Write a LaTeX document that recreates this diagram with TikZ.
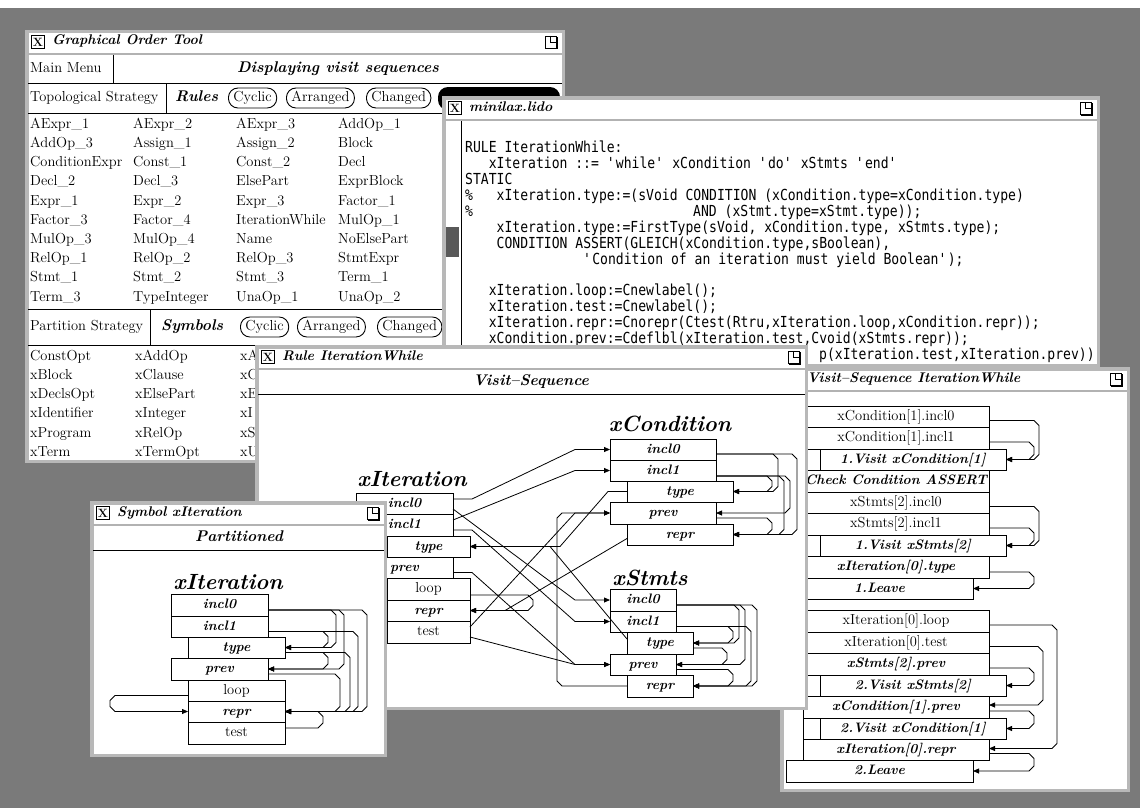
\documentclass[tikz,border=0pt]{standalone}
\usepackage{fontspec}
\usetikzlibrary{arrows.meta,calc}
\newfontfamily\codefont[FakeStretch=0.86]{DejaVu Sans Mono}
\newcommand\rmtext{\fontsize{14.5}{16}\selectfont}
\newcommand\bitext{\fontsize{13.7}{16}\selectfont\bfseries\itshape}
\newcommand\wintitle{\fontsize{14}{15}\selectfont\bfseries\itshape}
\newcommand\headtext{\fontsize{15.5}{17}\selectfont\bfseries\itshape}
\newcommand\symtext{\fontsize{22}{24}\selectfont\bfseries\itshape}
\newcommand\codetext{\codefont\fontsize{15.2}{16}\selectfont}
\tikzset{
  x=1pt, y=-1pt,
  desk/.style={fill=black!52},
  winframe/.style={draw=black!28,line width=3.5pt},
  barline/.style={draw=black!30,line width=2.5pt},
  sepline/.style={draw=black,line width=1pt},
  cellbase/.style={draw=black,fill=white,line width=1pt,inner sep=0pt,outer sep=0pt,text height=9pt,text depth=2pt},
  rm/.style={font=\rmtext},
  bi/.style={font=\bitext},
  dep/.style={draw=black,line width=0.8pt,-{Triangle[length=6pt,width=5pt]}},
  pill/.style={draw=black,line width=0.9pt,rounded corners=9.5pt,minimum height=20pt,inner xsep=5pt,inner ysep=0pt,anchor=west,font=\rmtext,text height=9pt,text depth=2.5pt},
  xbox/.style={draw=black,line width=0.8pt,minimum size=13pt,inner sep=0pt,font=\fontsize{12}{12}\selectfont\bfseries},
  titletext/.style={anchor=west,inner sep=0pt,font=\wintitle,text height=9pt,text depth=3pt},
  headline/.style={inner sep=0pt,font=\headtext,text height=10pt,text depth=3pt},
  listitem/.style={anchor=west,inner sep=0pt,font=\rmtext,text height=9pt,text depth=2.5pt},
  symname/.style={anchor=base,inner sep=0pt,font=\symtext},
  codeline/.style={anchor=base west,inner sep=0pt,font=\codetext},
}
% a labelled cell given by its corners
\newcommand\cellbox[7]{%
  \node[cellbase,#6,minimum width={(#4-#2)*1pt},minimum height={(#5-#3)*1pt}] (#1) at ({(#2+#4)/2},{(#3+#5)/2}) {#7};}
% dependency on the right-hand side, running downwards
\newcommand\rdep[5]{%
  \draw[dep] let \p1=(#1.east), \p2=(#3.east), \n1={\y1-(#2pt)}, \n2={\y2-(#4pt)}, \n3={#5pt} in
    (\x1,\n1) -- ({\n3-5pt},\n1) -- (\n3,{\n1-5pt})
    -- (\n3,{\n2+5pt}) -- ({\n3-5pt},\n2) -- (\x2,\n2);}
% dependency on the right-hand side, running upwards
\newcommand\udep[5]{%
  \draw[dep] let \p1=(#1.east), \p2=(#3.east), \n1={\y1-(#2pt)}, \n2={\y2-(#4pt)}, \n3={#5pt} in
    (\x1,\n1) -- ({\n3-5pt},\n1) -- (\n3,{\n1+5pt})
    -- (\n3,{\n2-5pt}) -- ({\n3-5pt},\n2) -- (\x2,\n2);}
\newcommand\closeicon[2]{%
  \pgfmathsetmacro\cix{#1}\pgfmathsetmacro\ciy{#2}%
  \draw[line width=0.8pt] (\cix-6,\ciy-6) rectangle (\cix+5,\ciy+6);
  \draw[line width=0.8pt] (\cix-0.5,\ciy-6) -- (\cix-0.5,\ciy) -- (\cix+5,\ciy);
  \draw[line width=1.5pt] (\cix-5,\ciy+6.75) -- (\cix+5.75,\ciy+6.75) -- (\cix+5.75,\ciy-5);}
% an X window: corners, title, name prefix
\newcommand\xwindow[6]{%
  \fill[white] (#1,#2) rectangle (#3,#4);
  \draw[winframe] ({#1+1.75},{#2+1.75}) rectangle ({#3-1.75},{#4-1.75});
  \draw[barline] ({#1+3},{#2+24}) -- ({#3-3},{#2+24});
  \node[xbox] (#6x) at ({#1+13},{#2+12}) {X};
  \node[titletext] (#6t) at ({#1+27},{#2+12}) {#5};
  \closeicon{#3-14}{#2+12}}
\begin{document}
\begin{tikzpicture}
\useasboundingbox (0,0) rectangle (1140,808);
\fill[white] (0,0) rectangle (1140,808);
\fill[desk] (0,8) rectangle (1140,808);

%% ---------------- Graphical Order Tool ----------------
\xwindow{25}{30}{565}{463}{Graphical Order Tool}{wa}
\draw[sepline] (113,55) -- (113,83);
\draw[sepline] (28,83) -- (562,83);
\node[listitem] (mainmenu) at (30,69) {Main Menu};
\node[headline] (disp) at (338,69) {Displaying visit sequences};
\draw[sepline] (166,83) -- (166,113);
\node[listitem] (topo) at (30,98) {Topological Strategy};
\node[headline,anchor=west] (rules) at (175,98) {Rules};
\node[pill] (rcyc) at (228,98) {Cyclic};
\node[pill] (rarr) at (286,98) {Arranged};
\node[pill] (rchg) at (366,98) {Changed};
\fill[black,rounded corners=10pt] (438,87) rectangle (560,110);
\draw[sepline] (28,113) -- (562,113);
\foreach \a/\b/\c/\d [count=\i from 0] in {
  AExpr\_1/AExpr\_2/AExpr\_3/AddOp\_1,
  AddOp\_3/Assign\_1/Assign\_2/Block,
  ConditionExpr/Const\_1/Const\_2/Decl,
  Decl\_2/Decl\_3/ElsePart/ExprBlock,
  Expr\_1/Expr\_2/Expr\_3/Factor\_1,
  Factor\_3/Factor\_4/IterationWhile/MulOp\_1,
  MulOp\_3/MulOp\_4/Name/NoElsePart,
  RelOp\_1/RelOp\_2/RelOp\_3/StmtExpr,
  Stmt\_1/Stmt\_2/Stmt\_3/Term\_1,
  Term\_3/TypeInteger/UnaOp\_1/UnaOp\_2}{
  \node[listitem] (g\i a) at (30,{125+19.2*\i}) {\a};
  \node[listitem] (g\i b) at (133,{125+19.2*\i}) {\b};
  \node[listitem] (g\i c) at (236,{125+19.2*\i}) {\c};
  \node[listitem] (g\i d) at (338,{125+19.2*\i}) {\d};
}
\draw[sepline] (28,309) -- (562,309);
\draw[sepline] (150,309) -- (150,345);
\node[listitem] (part) at (30,327) {Partition Strategy};
\node[headline,anchor=west] (symbols) at (161,327) {Symbols};
\node[pill] (scyc) at (240,327) {Cyclic};
\node[pill] (sarr) at (297,327) {Arranged};
\node[pill] (schg) at (377,327) {Changed};
\draw[sepline] (28,345) -- (562,345);
\foreach \a/\b/\c [count=\i from 0] in {
  ConstOpt/xAddOp/xA, xBlock/xClause/xC, xDeclsOpt/xElsePart/xE,
  xIdentifier/xInteger/xI, xProgram/xRelOp/xS, xTerm/xTermOpt/xU}{
  \node[listitem] (s\i a) at (30,{357+19.2*\i}) {\a};
  \node[listitem] (s\i b) at (135,{357+19.2*\i}) {\b};
  \node[listitem] (s\i c) at (240,{357+19.2*\i}) {\c};
}

%% ---------------- minilax.lido ----------------
\xwindow{442}{96}{1100}{367}{minilax.lido}{wm}
\draw[sepline] (461,121) -- (461,364);
\fill[black!65] (446,227) rectangle (459,257);
\node[codeline] (c1) at (465,152) {RULE IterationWhile:};
\node[codeline] (c2) at (488.6,168) {xIteration ::= \textquotesingle while\textquotesingle{} xCondition \textquotesingle do\textquotesingle{} xStmts \textquotesingle end\textquotesingle};
\node[codeline] (c3) at (465,184) {STATIC};
\node[codeline] (c4a) at (465,200) {\%};
\node[codeline] (c4b) at (496.5,200) {xIteration.type:=(sVoid CONDITION (xCondition.type=xCondition.type)};
\node[codeline] (c5a) at (465,216) {\%};
\node[codeline] (c5b) at (693,216) {AND (xStmt.type=xStmt.type));};
\node[codeline] (c6) at (496.5,232) {xIteration.type:=FirstType(sVoid, xCondition.type, xStmts.type);};
\node[codeline] (c7) at (496.5,248) {CONDITION ASSERT(GLEICH(xCondition.type,sBoolean),};
\node[codeline] (c8) at (583,264) {\textquotesingle Condition of an iteration must yield Boolean\textquotesingle);};
\node[codeline] (c9) at (488.6,295) {xIteration.loop:=Cnewlabel();};
\node[codeline] (c10) at (488.6,311) {xIteration.test:=Cnewlabel();};
\node[codeline] (c11) at (488.6,327) {xIteration.repr:=Cnorepr(Ctest(Rtru,xIteration.loop,xCondition.repr));};
\node[codeline] (c12) at (488.6,343) {xCondition.prev:=Cdeflbl(xIteration.test,Cvoid(xStmts.repr));};
\node[codeline] (c13) at (819,359) {p(xIteration.test,xIteration.prev))};

%% ---------------- Visit-Sequence IterationWhile ----------------
\xwindow{780}{367}{1130}{792}{Visit--Sequence IterationWhile}{wv}
\cellbox{V1}{803}{406}{989}{427}{rm}{xCondition[1].incl0}
\cellbox{V2}{803}{427}{989}{449}{rm}{xCondition[1].incl1}
\draw[cellbase] (803,449) rectangle (820,470);
\cellbox{V3}{820}{449}{1006}{470}{bi}{1.Visit xCondition[1]}
\cellbox{V4}{803}{470}{989}{492}{bi}{Check Condition ASSERT}
\cellbox{V5}{803}{492}{989}{513}{rm}{xStmts[2].incl0}
\cellbox{V6}{803}{513}{989}{535}{rm}{xStmts[2].incl1}
\draw[cellbase] (803,535) rectangle (820,556);
\cellbox{V7}{820}{535}{1006}{556}{bi}{1.Visit xStmts[2]}
\cellbox{V8}{803}{556}{989}{578}{bi}{xIteration[0].type}
\cellbox{V9}{786}{578}{973}{599}{bi}{1.Leave}
\cellbox{V10}{803}{610}{989}{632}{rm}{xIteration[0].loop}
\cellbox{V11}{803}{632}{989}{653}{rm}{xIteration[0].test}
\cellbox{V12}{803}{653}{989}{675}{bi}{xStmts[2].prev}
\draw[cellbase] (803,675) rectangle (820,696);
\cellbox{V13}{820}{675}{1006}{696}{bi}{2.Visit xStmts[2]}
\cellbox{V14}{803}{696}{989}{718}{bi}{xCondition[1].prev}
\draw[cellbase] (803,718) rectangle (820,739);
\cellbox{V15}{820}{718}{1006}{739}{bi}{2.Visit xCondition[1]}
\cellbox{V16}{803}{739}{989}{760}{bi}{xIteration[0].repr}
\cellbox{V17}{786}{760}{973}{782}{bi}{2.Leave}
\rdep{V1}{4}{V3}{0}{1039}
\rdep{V2}{4}{V3}{0}{1034}
\rdep{V5}{4}{V7}{0}{1039}
\rdep{V6}{4}{V7}{0}{1034}
\rdep{V8}{5}{V9}{0}{1034}
\rdep{V10}{4}{V16}{-1}{1057}
\rdep{V11}{4}{V14}{-2}{1043}
\rdep{V12}{4}{V13}{0}{1034}
\rdep{V14}{4}{V15}{0}{1034}
\rdep{V16}{4}{V17}{0}{1034}

%% ---------------- Rule IterationWhile ----------------
\xwindow{255}{345}{808}{710}{Rule IterationWhile}{wr}
\node[headline] (rvs) at (531,382) {Visit--Sequence};
\draw[sepline] (258,394) -- (805,394);
\node[symname] (rIn) at (412,486) {xIteration};
\node[symname] (rCn) at (670,431) {xCondition};
\node[symname] (rSn) at (650,585) {xStmts};
% xIteration
\cellbox{Ii0}{356}{493}{453}{514}{bi}{incl0}
\cellbox{Ii1}{356}{514}{453}{536}{bi}{incl1}
\cellbox{It}{387}{536}{470}{557}{bi}{type}
\cellbox{Ip}{356}{557}{453}{578}{bi}{prev}
\cellbox{Il}{387}{578}{470}{600}{rm}{loop}
\cellbox{Ir}{387}{600}{470}{621}{bi}{repr}
\cellbox{Is}{387}{621}{470}{643}{rm}{test}
% xCondition
\cellbox{Ci0}{610}{439}{716}{460}{bi}{incl0}
\cellbox{Ci1}{610}{460}{716}{481}{bi}{incl1}
\cellbox{Ct}{627}{481}{733}{502}{bi}{type}
\cellbox{Cp}{610}{502}{716}{524}{bi}{prev}
\cellbox{Cr}{627}{524}{733}{545}{bi}{repr}
% xStmts
\cellbox{Si0}{610}{589}{676}{611}{bi}{incl0}
\cellbox{Si1}{610}{611}{676}{632}{bi}{incl1}
\cellbox{St}{627}{632}{693}{654}{bi}{type}
\cellbox{Sp}{610}{654}{676}{675}{bi}{prev}
\cellbox{Sr}{627}{675}{693}{697}{bi}{repr}
% between the symbols
\draw[dep] ([yshift=4.5pt]Ii0.east) -- ++(19,0) -- (575,449.5) -- (Ci0.west);
\draw[dep] ([yshift=5pt]Ii1.east) -- (575,470.5) -- (Ci1.west);
\draw[dep] ([yshift=-5.5pt]Ii0.east) -- (575,600) -- (Si0.west);
\draw[dep] ([yshift=-5pt]Ii1.east) -- ++(19,0) -- (575,621.5) -- (Si1.west);
\draw[dep] (Ct.west) -- ++(-19,0) -- (560,546.5) -- (It.east);
\draw[dep] ([yshift=4pt]St.west) -- (550,546.5) -- (It.east);
\draw[dep] ([yshift=-4pt]Cr.west) -- (505,610.5) -- (Ir.east);
\draw[dep] (Sr.west) -- (562,686) -- (557,681) -- (557,518) -- (562,513) -- (Cp.west);
\draw[dep] ([yshift=5pt]Is.east) -- (575,513) -- (Cp.west);
\draw[dep] ([yshift=-5pt]Is.east) -- (575,664.5) -- (Sp.west);
\draw[dep] ([yshift=-5pt]Ip.east) -- ++(19,0) -- (575,664.5) -- (Sp.west);
\draw[dep] ([yshift=-6pt]Il.east) -- (528,595) -- (533,600) -- (533,605.5) -- (528,610.5) -- (Ir.east);
% within xCondition
\rdep{Ci0}{4.5}{Ct}{0}{778}
\rdep{Ci1}{5.5}{Ct}{0}{772}
\rdep{Ci1}{5.5}{Cp}{0}{790}
\rdep{Ci1}{5.5}{Cr}{0}{784}
\rdep{Ci0}{4.5}{Cr}{0}{797}
\rdep{Cp}{5}{Cr}{0}{772}
% within xStmts
\rdep{Si0}{5}{St}{0}{739}
\rdep{Si1}{5}{St}{0}{733}
\rdep{Si0}{5}{Sp}{0}{745}
\rdep{St}{5}{Sp}{0}{727}
\rdep{Si1}{5}{Sr}{0}{751}
\rdep{Si0}{5}{Sr}{0}{757}
\rdep{Sp}{5}{Sr}{0}{733}

%% ---------------- Symbol xIteration ----------------
\xwindow{90}{501}{387}{757}{Symbol xIteration}{ws}
\node[headline] (spart) at (239,538) {Partitioned};
\draw[sepline] (93,550) -- (384,550);
\node[symname] (sIn) at (228,589) {xIteration};
\cellbox{Yi0}{171}{594}{268}{616}{bi}{incl0}
\cellbox{Yi1}{171}{616}{268}{637}{bi}{incl1}
\cellbox{Yt}{188}{637}{285}{658}{bi}{type}
\cellbox{Yp}{171}{658}{268}{680}{bi}{prev}
\cellbox{Yl}{188}{680}{285}{701}{rm}{loop}
\cellbox{Yr}{188}{701}{285}{722}{bi}{repr}
\cellbox{Ys}{188}{722}{285}{744}{rm}{test}
\rdep{Yi0}{5}{Yt}{0}{336}
\rdep{Yi1}{5}{Yt}{0}{328}
\rdep{Yi0}{5}{Yp}{0}{344}
\rdep{Yt}{5}{Yp}{0}{328}
\rdep{Yt}{5}{Yr}{0}{350}
\rdep{Yp}{5}{Yr}{0}{340}
\rdep{Yi1}{5}{Yr}{0}{358}
\rdep{Yi0}{5}{Yr}{0}{367}
\udep{Ys}{-5}{Yr}{0}{323}
\draw[dep] ([yshift=-5pt]Yl.west) -- (115,695.5) -- (110,700.5) -- (110,706.5) -- (115,711.5) -- (Yr.west);
\end{tikzpicture}
\end{document}
